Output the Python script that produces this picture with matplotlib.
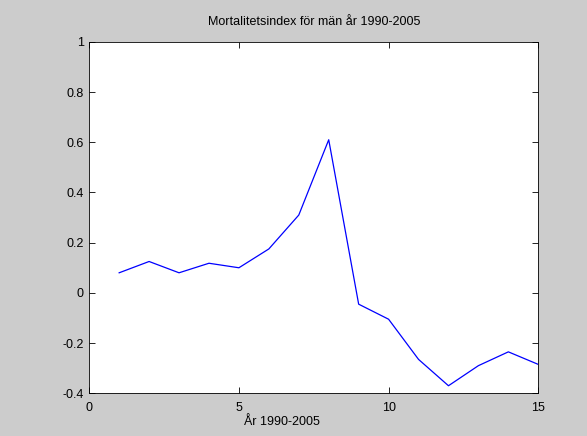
import matplotlib
matplotlib.use("Agg")
from matplotlib import pyplot as plt

# mortality index for men, one value per year step
years = list(range(1, 16))
index = [0.08, 0.125, 0.08, 0.118, 0.10, 0.175, 0.31, 0.61, -0.045, -0.105,
         -0.265, -0.37, -0.29, -0.235, -0.285]
xticks = [0, 5, 10, 15]
yticks = [-0.4, -0.2, 0, 0.2, 0.4, 0.6, 0.8, 1]
yticklabels = ["-0.4", "-0.2", "0", "0.2", "0.4", "0.6", "0.8", "1"]

plt.rcParams['font.family'] = ['Liberation Sans', 'DejaVu Sans']
plt.rcParams['font.size'] = 9

fig = plt.figure(figsize=(5.87, 4.36), dpi=100, facecolor="#cccccc")
ax = fig.add_axes([0.152, 0.098, 0.765, 0.806])
ax.plot(years, index, color="blue", lw=0.9)

ax.set_xlim(0, 15)
ax.set_ylim(-0.4, 1)
ax.set_xticks(xticks)
ax.set_yticks(yticks)
ax.set_yticklabels(yticklabels)
ax.tick_params(direction="in", top=True, right=True, length=4, width=0.6)
ax.tick_params(axis="x", pad=6)
ax.tick_params(axis="y", pad=4)
for s in ax.spines.values():
    s.set_linewidth(0.6)

ax.set_title("Mortalitetsindex för män år 1990-2005", fontsize=9, pad=12)
ax.set_xlabel("År 1990-2005", labelpad=2, x=0.43)

fig.savefig("out.png", facecolor=fig.get_facecolor())
